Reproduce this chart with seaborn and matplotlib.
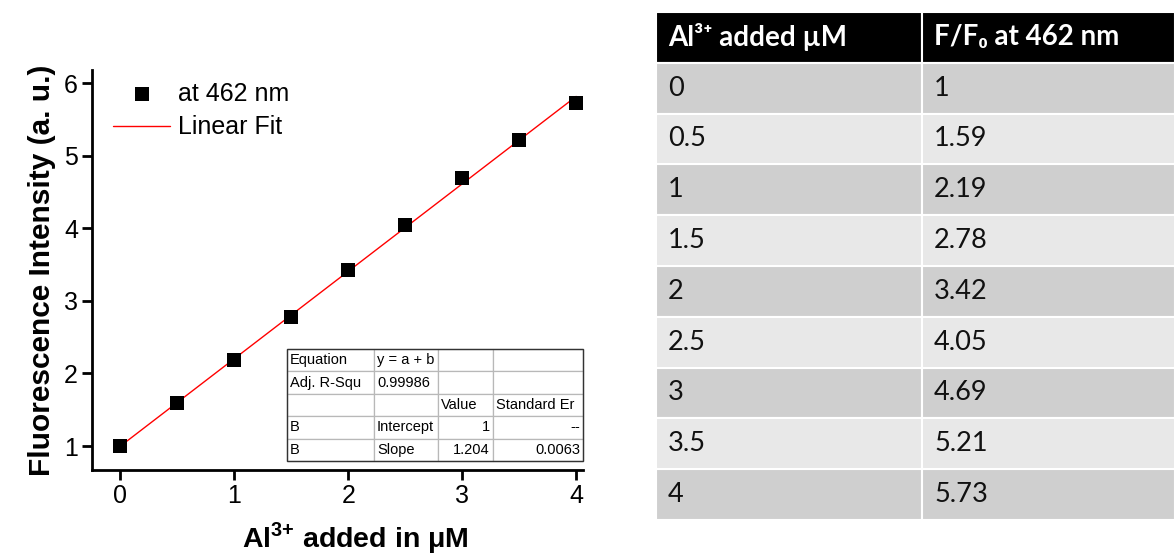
import numpy as np
import pandas as pd
import seaborn as sns
import matplotlib
matplotlib.use("Agg")
import matplotlib.pyplot as plt
from matplotlib.patches import Rectangle

# ---- data ----
al_added = [0, 0.5, 1, 1.5, 2, 2.5, 3, 3.5, 4]
f_ratio = [1, 1.59, 2.19, 2.78, 3.42, 4.05, 4.69, 5.21, 5.73]
al_labels = ["0", "0.5", "1", "1.5", "2", "2.5", "3", "3.5", "4"]
ratio_labels = ["1", "1.59", "2.19", "2.78", "3.42", "4.05", "4.69", "5.21", "5.73"]
fit_intercept = 1.0
fit_slope = 1.204
fit_x = [0, 4]
fit_table = [
    ["Equation", "y = a + b", "", ""],
    ["Adj. R-Squ", "0.99986", "", ""],
    ["", "", "Value", "Standard Er"],
    ["B", "Intercept", "1", "--"],
    ["B", "Slope", "1.204", "0.0063"],
]
table_header = ["Al³⁺ added µM", "F/F₀ at 462 nm"]

sns.set_theme(style="ticks")
plt.rcParams["font.family"] = ["Liberation Sans", "DejaVu Sans"]
plt.rcParams["text.color"] = "black"
plt.rcParams["axes.labelcolor"] = "black"
plt.rcParams["xtick.color"] = "black"
plt.rcParams["ytick.color"] = "black"
plt.rcParams["xtick.labelcolor"] = "black"
plt.rcParams["ytick.labelcolor"] = "black"
plt.rcParams["mathtext.fontset"] = "custom"
plt.rcParams["mathtext.rm"] = "Liberation Sans:bold"
plt.rcParams["mathtext.bf"] = "Liberation Sans:bold"

W, H = 1175, 556
fig = plt.figure(figsize=(W / 100, H / 100), dpi=100)

def fx(px):
    return px / W

def fy(py):
    return 1 - py / H

ax = fig.add_axes([fx(92), fy(470), fx(583) - fx(92), fy(70) - fy(470)])

df = pd.DataFrame({"x": al_added, "y": f_ratio})
fit_df = pd.DataFrame({"x": fit_x, "y": [fit_intercept + fit_slope * v for v in fit_x]})

sns.lineplot(data=fit_df, x="x", y="y", ax=ax, color="#ff0000", linewidth=1.0,
             label="Linear Fit", zorder=2)
sns.scatterplot(data=df, x="x", y="y", ax=ax, marker="s", s=95, color="black",
                edgecolor="black", linewidth=0, label="at 462 nm", zorder=3)

ax.set_xlim(-0.25, 4.06)
ax.set_ylim(0.67, 6.18)
ax.set_xticks([0, 1, 2, 3, 4])
ax.set_yticks([1, 2, 3, 4, 5, 6])
ax.minorticks_off()
sns.despine(ax=ax)
for s in ["left", "bottom"]:
    ax.spines[s].set_linewidth(2)
    ax.spines[s].set_color("black")
ax.tick_params(axis="both", which="major", direction="out", length=7, width=2,
               labelsize=18, color="black", labelcolor="black", pad=3)
ax.set_xlabel("Al$^{3{+}}$ added in μM", fontsize=20.5, fontweight="bold",
              color="black")
ax.xaxis.set_label_coords(0.536, -0.125)
ax.set_ylabel("Fluorescence Intensity (a. u.)", fontsize=21.5, fontweight="bold",
              labelpad=6, color="black")

handles, labels = ax.get_legend_handles_labels()
order = [labels.index("at 462 nm"), labels.index("Linear Fit")]
ax.legend([handles[i] for i in order], [labels[i] for i in order],
          loc="upper left", bbox_to_anchor=(0.022, 0.995), frameon=False,
          fontsize=18, handlelength=2.3, handletextpad=0.32, labelspacing=0.38,
          borderaxespad=0)

# ---- inset fit table ----
col_edges = [287, 374, 438, 493, 583]
row_top, row_h = 349, 22.4
for r, row in enumerate(fit_table):
    for c, txt in enumerate(row):
        x0 = col_edges[c]
        x1 = col_edges[c + 1]
        y0 = row_top + r * row_h
        fig.patches.append(Rectangle((fx(x0), fy(y0 + row_h)), fx(x1) - fx(x0),
                                     fy(y0) - fy(y0 + row_h), transform=fig.transFigure,
                                     facecolor="white", edgecolor="#b8b8b8", lw=0.9,
                                     zorder=5))
        if txt:
            right = (c >= 2 and r >= 3)
            if right:
                fig.text(fx(x1 - 3), fy(y0 + row_h / 2), txt, ha="right", va="center",
                         fontsize=10.5, zorder=6)
            else:
                fig.text(fx(x0 + 3), fy(y0 + row_h / 2), txt, ha="left", va="center",
                         fontsize=10.5, zorder=6)
fig.patches.append(Rectangle((fx(287), fy(row_top + 5 * row_h)), fx(583) - fx(287),
                             fy(row_top) - fy(row_top + 5 * row_h),
                             transform=fig.transFigure, facecolor="none",
                             edgecolor="#333333", lw=1.0, zorder=7))

# ---- right data table ----
tx0, tx_mid, tx1 = 656, 922, 1175
ty0, trh = 12, 50.8
tfam = ["Lato", "DejaVu Sans"]
for c, (a, b) in enumerate([(tx0, tx_mid), (tx_mid, tx1)]):
    fig.patches.append(Rectangle((fx(a), fy(ty0 + trh)), fx(b) - fx(a),
                                 fy(ty0) - fy(ty0 + trh), transform=fig.transFigure,
                                 facecolor="black", edgecolor="white", lw=1.5))
    fig.text(fx(a + 12), fy(ty0 + trh / 2), table_header[c], ha="left", va="center",
             fontsize=20, fontweight="bold", color="white", family=tfam)
for r in range(len(al_labels)):
    y0 = ty0 + (r + 1) * trh
    face = "#cfcfcf" if r % 2 == 0 else "#e8e8e8"
    for c, (a, b) in enumerate([(tx0, tx_mid), (tx_mid, tx1)]):
        fig.patches.append(Rectangle((fx(a), fy(y0 + trh)), fx(b) - fx(a),
                                     fy(y0) - fy(y0 + trh), transform=fig.transFigure,
                                     facecolor=face, edgecolor="white", lw=1.5))
        txt = al_labels[r] if c == 0 else ratio_labels[r]
        fig.text(fx(a + 12), fy(y0 + trh / 2), txt, ha="left", va="center",
                 fontsize=19.5, color="#111111", family=tfam)

fig.savefig("out.png", dpi=100)
